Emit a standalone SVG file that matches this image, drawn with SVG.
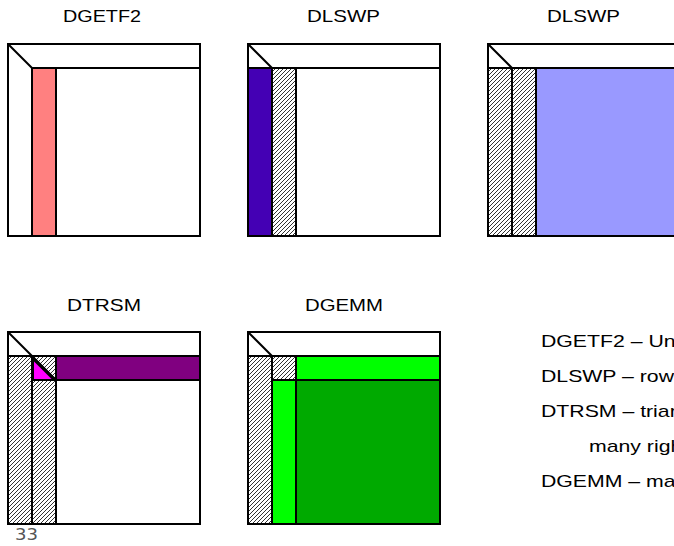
<svg xmlns="http://www.w3.org/2000/svg" width="674" height="546" viewBox="0 0 674 546">
<defs>
<pattern id="hatch" patternUnits="userSpaceOnUse" width="4" height="4">
<rect width="4" height="4" fill="#fff"/>
<path d="M-1,1 l2,-2 M0,4 l4,-4 M3,5 l2,-2" stroke="#333" stroke-width="1"/>
</pattern>
</defs>
<style>
.o{fill:none;stroke:#000;stroke-width:2}
.b{stroke:#000;stroke-width:2}
.h{fill:url(#hatch);stroke:#000;stroke-width:2}
.t{font-family:"Liberation Sans",Arial,sans-serif;font-size:17px;fill:#000}
.d{font-family:"Liberation Sans",Arial,sans-serif;font-size:17px;fill:#000}
</style>
<rect width="674" height="546" fill="#fff"/>
<g id="p1">
<text class="t" x="63" y="22" textLength="78" lengthAdjust="spacingAndGlyphs">DGETF2</text>
<rect class="b" x="32" y="68" width="24" height="168" fill="#FF8080"/>
<rect class="o" x="8" y="44" width="192" height="192"/>
<path class="o" d="M32,68 H200 M8,44 L32,68"/>
</g>
<g id="p2">
<text class="t" x="307" y="22" textLength="73" lengthAdjust="spacingAndGlyphs">DLSWP</text>
<rect class="b" x="248" y="68" width="24" height="168" fill="#4400B4"/>
<rect class="h" x="272" y="68" width="24" height="168"/>
<rect class="o" x="248" y="44" width="192" height="192"/>
<path class="o" d="M248,68 H440 M248,44 L272,68"/>
</g>
<g id="p3">
<text class="t" x="547" y="22" textLength="73" lengthAdjust="spacingAndGlyphs">DLSWP</text>
<rect class="b" x="536" y="68" width="150" height="168" fill="#9999FF"/>
<rect class="h" x="488" y="68" width="24" height="168"/>
<rect class="h" x="512" y="68" width="24" height="168"/>
<rect class="o" x="488" y="44" width="200" height="192"/>
<path class="o" d="M488,68 H688 M488,44 L512,68"/>
</g>
<g id="p4">
<text class="t" x="67" y="311" textLength="74" lengthAdjust="spacingAndGlyphs">DTRSM</text>
<rect class="h" x="8" y="356" width="24" height="168"/>
<rect class="h" x="32" y="356" width="24" height="168"/>
<rect class="b" x="56" y="356" width="144" height="24" fill="#800080"/>
<path class="b" d="M33,359 L54,380 L33,380 Z" fill="#FF00FF"/>
<rect class="o" x="8" y="332" width="192" height="192"/>
<path class="o" d="M8,356 H200 M32,380 H200 M8,332 L56,380"/>
</g>
<g id="p5">
<text class="t" x="305" y="311" textLength="78" lengthAdjust="spacingAndGlyphs">DGEMM</text>
<rect class="h" x="248" y="356" width="24" height="168"/>
<rect class="h" x="272" y="356" width="24" height="24"/>
<rect class="b" x="296" y="356" width="144" height="24" fill="#00FF00"/>
<rect class="b" x="272" y="380" width="24" height="144" fill="#00FF00"/>
<rect class="b" x="296" y="380" width="144" height="144" fill="#00AA00"/>
<rect class="o" x="248" y="332" width="192" height="192"/>
<path class="o" d="M248,356 H440 M248,332 L272,356"/>
</g>
<g id="legend">
<text class="d" transform="translate(541,347) scale(1.25,1)">DGETF2 – Un</text>
<text class="d" transform="translate(541,382) scale(1.25,1)">DLSWP – row</text>
<text class="d" transform="translate(541,417) scale(1.25,1)">DTRSM – trian</text>
<text class="d" transform="translate(589,452) scale(1.25,1)">many righ</text>
<text class="d" transform="translate(541,487) scale(1.25,1)">DGEMM – ma</text>
</g>
<text x="15" y="540" font-family="'DejaVu Sans',sans-serif" font-size="15" fill="#555" textLength="23" lengthAdjust="spacingAndGlyphs">33</text>
</svg>
